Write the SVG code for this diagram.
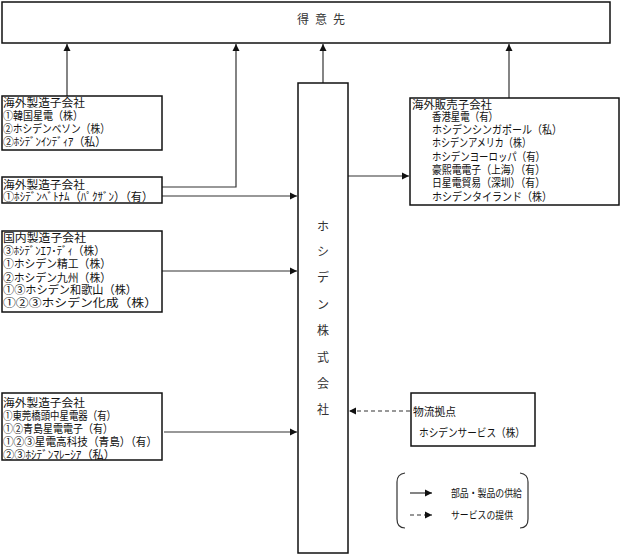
<svg xmlns="http://www.w3.org/2000/svg" width="624" height="556" viewBox="0 0 624 556">
<style>
.box{fill:#fff;stroke:#111;stroke-width:1.5}
.t{font-family:"Liberation Serif","Noto Sans CJK JP",serif;font-size:11.5px;fill:#111}
.lg{font-family:"Noto Sans CJK JP",sans-serif;font-size:10.5px;fill:#111}
.v{font-family:"Liberation Serif","Noto Sans CJK JP",serif;font-size:12px;fill:#333;text-anchor:middle}
.ln{fill:none;stroke:#333;stroke-width:1.2}
.ds{fill:none;stroke:#333;stroke-width:1.2;stroke-dasharray:4 3}
</style>
<defs>
<marker id="ah" markerWidth="8" markerHeight="8" refX="7" refY="4" orient="auto" markerUnits="userSpaceOnUse">
<path d="M0,0.5 L7,4 L0,7.5 Z" fill="#111"/>
</marker>
</defs>

<g id="connectors">
<path class="ln" d="M67,96 V44" marker-end="url(#ah)"/>
<path class="ln" d="M162,187 H236 V44" marker-end="url(#ah)"/>
<path class="ln" d="M162,196 H297" marker-end="url(#ah)"/>
<path class="ln" d="M162,271 H297" marker-end="url(#ah)"/>
<path class="ln" d="M164,432 H297" marker-end="url(#ah)"/>
<path class="ln" d="M323,83 V44" marker-end="url(#ah)"/>
<path class="ln" d="M348,176 H409" marker-end="url(#ah)"/>
<path class="ln" d="M509,98 V44" marker-end="url(#ah)"/>
<path class="ds" d="M410,411 H349" marker-end="url(#ah)"/>
</g>

<g id="customer">
<rect class="box" x="2" y="2" width="608" height="41"/>
<text class="v" x="324" y="24" letter-spacing="6">得意先</text>
</g>

<g id="mfg-overseas-1">
<rect class="box" x="2" y="96" width="160" height="54"/>
<text class="t" x="3" y="107" textLength="82" lengthAdjust="spacingAndGlyphs">海外製造子会社</text>
<text class="t" x="3" y="120" textLength="80" lengthAdjust="spacingAndGlyphs">①韓国星電（株）</text>
<text class="t" x="3" y="133" textLength="107" lengthAdjust="spacingAndGlyphs">②ホシデンベソン（株）</text>
<text class="t" x="3" y="146" textLength="103" lengthAdjust="spacingAndGlyphs">②ﾎｼﾃﾞﾝｲﾝﾃﾞｨｱ（私）</text>
</g>

<g id="mfg-overseas-2">
<rect class="box" x="2" y="177" width="160" height="26"/>
<text class="t" x="3" y="189" textLength="82" lengthAdjust="spacingAndGlyphs">海外製造子会社</text>
<text class="t" x="3" y="201" textLength="150" lengthAdjust="spacingAndGlyphs">①ﾎｼﾃﾞﾝﾍﾞﾄﾅﾑ（ﾊﾟｸｻﾞﾝ）（有）</text>
</g>

<g id="mfg-domestic">
<rect class="box" x="2" y="231" width="160" height="81"/>
<text class="t" x="3" y="242" textLength="83" lengthAdjust="spacingAndGlyphs">国内製造子会社</text>
<text class="t" x="3" y="255" textLength="102" lengthAdjust="spacingAndGlyphs">③ﾎｼﾃﾞﾝｴﾌ･ﾃﾞｨ（株）</text>
<text class="t" x="3" y="268" textLength="108" lengthAdjust="spacingAndGlyphs">①ホシデン精工（株）</text>
<text class="t" x="3" y="282" textLength="108" lengthAdjust="spacingAndGlyphs">②ホシデン九州（株）</text>
<text class="t" x="3" y="294" textLength="134" lengthAdjust="spacingAndGlyphs">①③ホシデン和歌山（株）</text>
<text class="t" x="3" y="307" textLength="154" lengthAdjust="spacingAndGlyphs">①②③ホシデン化成（株）</text>
</g>

<g id="mfg-overseas-3">
<rect class="box" x="2" y="393" width="160" height="67"/>
<text class="t" x="3" y="407" textLength="82" lengthAdjust="spacingAndGlyphs">海外製造子会社</text>
<text class="t" x="3" y="420" textLength="113" lengthAdjust="spacingAndGlyphs">①東莞橋頭中星電器（有）</text>
<text class="t" x="3" y="433" textLength="110" lengthAdjust="spacingAndGlyphs">①②青島星電電子（有）</text>
<text class="t" x="3" y="446" textLength="154" lengthAdjust="spacingAndGlyphs">①②③星電高科技（青島）（有）</text>
<text class="t" x="3" y="459" textLength="112" lengthAdjust="spacingAndGlyphs">②③ﾎｼﾃﾞﾝﾏﾚｰｼｱ（私）</text>
</g>

<g id="hosiden">
<rect class="box" x="298" y="83" width="50" height="470"/>
<text class="v" x="323" y="231">ホ</text>
<text class="v" x="323" y="256">シ</text>
<text class="v" x="323" y="282">デ</text>
<text class="v" x="323" y="309">ン</text>
<text class="v" x="323" y="335">株</text>
<text class="v" x="323" y="362">式</text>
<text class="v" x="323" y="388">会</text>
<text class="v" x="323" y="414">社</text>
</g>

<g id="sales-overseas">
<rect class="box" x="410" y="98" width="209" height="107"/>
<text class="t" x="412" y="109" textLength="80" lengthAdjust="spacingAndGlyphs">海外販売子会社</text>
<text class="t" x="432" y="121" textLength="66" lengthAdjust="spacingAndGlyphs">香港星電（有）</text>
<text class="t" x="432" y="134" textLength="130" lengthAdjust="spacingAndGlyphs">ホシデンシンガポール（私）</text>
<text class="t" x="432" y="147" textLength="99" lengthAdjust="spacingAndGlyphs">ホシデンアメリカ（株）</text>
<text class="t" x="432" y="161" textLength="113" lengthAdjust="spacingAndGlyphs">ホシデンヨーロッパ（有）</text>
<text class="t" x="432" y="174" textLength="113" lengthAdjust="spacingAndGlyphs">豪熙電電子（上海）（有）</text>
<text class="t" x="432" y="187" textLength="113" lengthAdjust="spacingAndGlyphs">日星電貿易（深圳）（有）</text>
<text class="t" x="432" y="201" textLength="120" lengthAdjust="spacingAndGlyphs">ホシデンタイランド（株）</text>
</g>

<g id="logistics">
<rect class="box" x="411" y="393" width="124" height="53"/>
<text class="t" x="413" y="416" textLength="43" lengthAdjust="spacingAndGlyphs">物流拠点</text>
<text class="t" x="419" y="437" textLength="106" lengthAdjust="spacingAndGlyphs">ホシデンサービス（株）</text>
</g>

<g id="legend">
<path class="ln" d="M405,473 Q397,474 397,482 V519 Q397,528 405,528"/>
<path class="ln" d="M520,473 Q528,474 528,482 V519 Q528,528 520,528"/>
<path class="ln" d="M410,493 H432" marker-end="url(#ah)"/>
<path class="ds" d="M410,515 H432" marker-end="url(#ah)"/>
<text class="lg" x="451" y="497" textLength="71" lengthAdjust="spacingAndGlyphs">部品・製品の供給</text>
<text class="lg" x="451" y="519" textLength="62" lengthAdjust="spacingAndGlyphs">サービスの提供</text>
</g>
</svg>
